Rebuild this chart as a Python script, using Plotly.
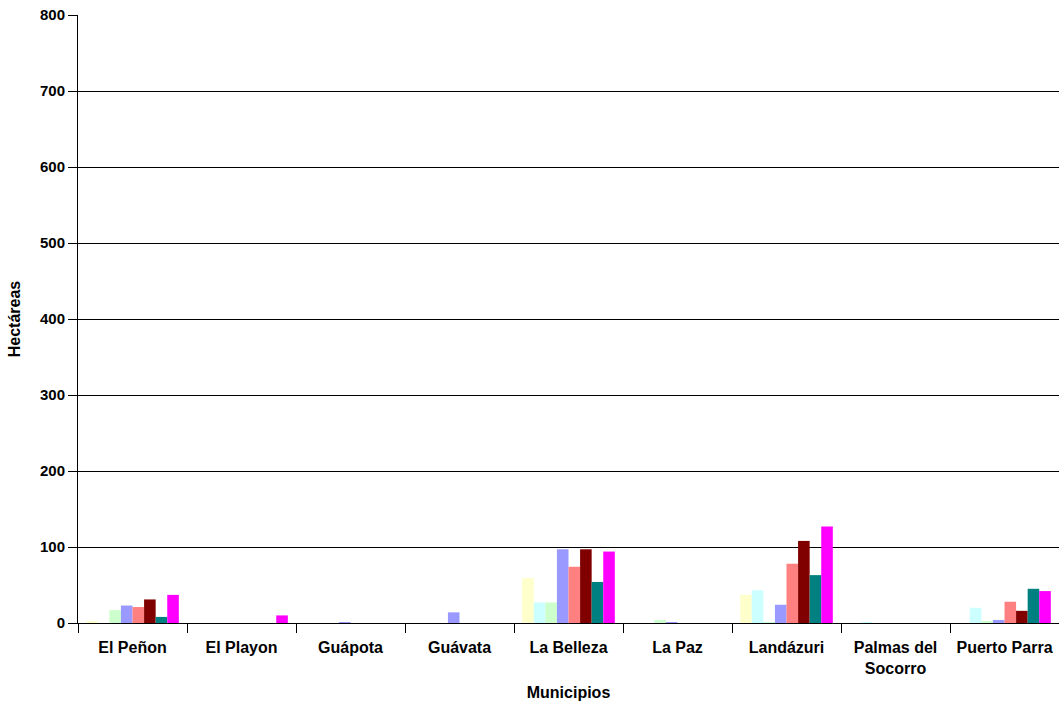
import plotly.graph_objects as go

municipios = ["El Peñon", "El Playon", "Guápota", "Guávata", "La Belleza", "La Paz",
              "Landázuri", "Palmas del<br>Socorro", "Puerto Parra"]

serie_1 = [2, 0, 0, 0, 59, 0, 37, 0, 0]
serie_2 = [0, 0, 0, 0, 27, 0, 43, 1, 20]
serie_3 = [17, 0, 0, 0, 27, 4, 1, 0, 2]
serie_4 = [23, 0, 1, 14, 97, 1, 24, 0, 4]
serie_5 = [21, 0, 0, 0, 74, 0, 78, 0, 28]
serie_6 = [31, 0, 0, 0, 97, 0, 108, 0, 16]
serie_7 = [8, 0, 0, 0, 54, 0, 63, 0, 45]
serie_8 = [37, 10, 0, 0, 94, 0, 127, 0, 42]

series = [serie_1, serie_2, serie_3, serie_4, serie_5, serie_6, serie_7, serie_8]
colors = ["#FFFFCC", "#CCFFFF", "#CCFFCC", "#9999FF", "#FF8080", "#800000", "#008080", "#FF00FF"]
names = ["Serie 1", "Serie 2", "Serie 3", "Serie 4", "Serie 5", "Serie 6", "Serie 7", "Serie 8"]

fig = go.Figure()
for vals, col, nm in zip(series, colors, names):
    fig.add_trace(go.Bar(x=municipios, y=vals, name=nm, marker_color=col,
                         marker_line_width=0, showlegend=False))

font_family = "Liberation Sans, Arial, sans-serif"
fig.update_layout(
    width=1059, height=704,
    margin=dict(l=78, r=0, t=15, b=81, autoexpand=False),
    paper_bgcolor="white", plot_bgcolor="white",
    barmode="group", bargap=0.15, bargroupgap=0,
    font=dict(family=font_family, size=14, color="black"),
    xaxis=dict(
        automargin=False,
        showline=True, linecolor="black", linewidth=1,
        ticks="outside", tickson="boundaries", ticklen=9, tickcolor="black",
        ticklabelstandoff=10,
        tickfont=dict(size=16, family=font_family, weight="bold"),
        title=dict(text="<b>Municipios</b>", font=dict(size=16), standoff=10),
        showgrid=False,
    ),
    yaxis=dict(
        automargin=False,
        range=[0, 800], dtick=100,
        showline=True, linecolor="black", linewidth=1,
        ticks="outside", ticklen=9, tickcolor="black",
        tickfont=dict(size=15, family=font_family, weight="bold"),
        showgrid=True, gridcolor="black", gridwidth=1,
        zeroline=False,
        title=dict(text="<b>Hectáreas</b>", font=dict(size=16), standoff=15),
    ),
)

fig.write_html("out.html", config={"displayModeBar": False},
               post_script="document.body.style.margin='0';")
